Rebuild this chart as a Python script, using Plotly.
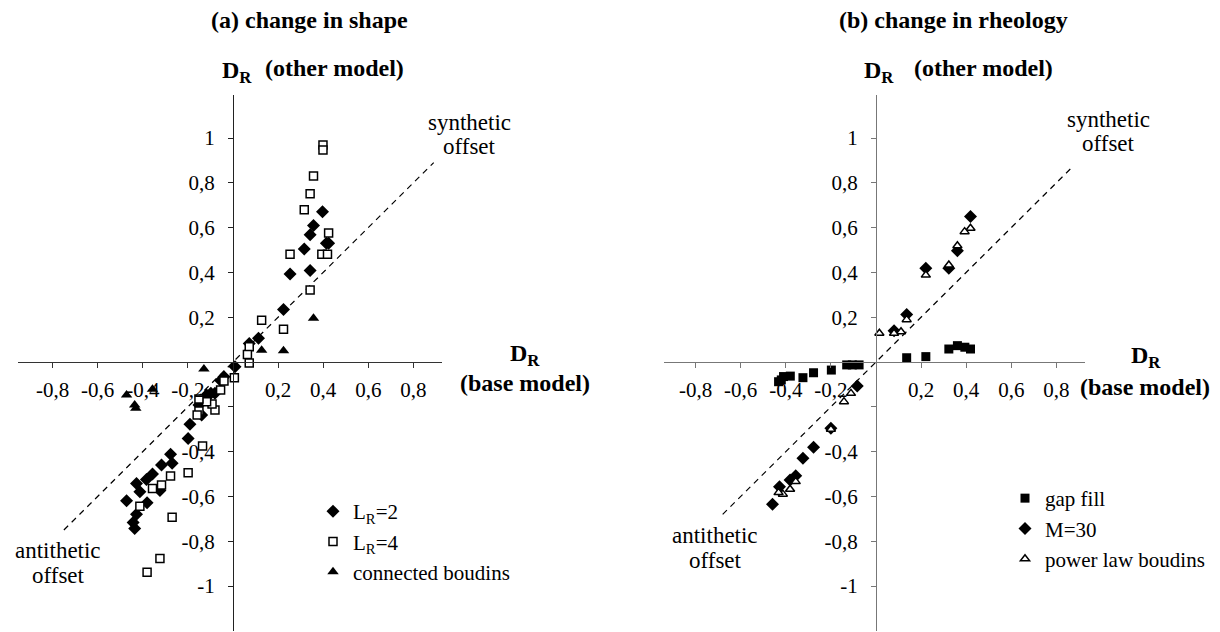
import plotly.graph_objects as go

W, H = 1220, 632
FONT = "'Liberation Serif', 'Times New Roman', 'DejaVu Serif', serif"

# ---------------- data: panel (a) change in shape ----------------
lr2_x = [0.397, 0.357, 0.342, 0.414, 0.424, 0.316, 0.253, 0.342, 0.224, 0.113, 0.072,
         0.009, -0.040, -0.055, -0.080, -0.098, -0.117, -0.139, -0.151, -0.191, -0.199,
         -0.277, -0.270, -0.317, -0.357, -0.384, -0.428, -0.324, -0.413, -0.381, -0.472,
         -0.428, -0.443, -0.436]
lr2_y = [0.671, 0.609, 0.568, 0.530, 0.530, 0.504, 0.393, 0.408, 0.234, 0.106, 0.083,
         -0.021, -0.066, -0.083, -0.140, -0.140, -0.147, -0.237, -0.192, -0.278, -0.341,
         -0.412, -0.452, -0.460, -0.500, -0.524, -0.542, -0.574, -0.579, -0.628, -0.619,
         -0.680, -0.717, -0.743]

lr4_x = [0.399, 0.399, 0.357, 0.342, 0.316, 0.424, 0.253, 0.394, 0.419, 0.342, 0.127,
         0.224, 0.072, 0.064, 0.072, 0.006, -0.040, -0.055, -0.080, -0.093, -0.117,
         -0.151, -0.151, -0.159, -0.135, -0.199, -0.277, -0.317, -0.357, -0.413, -0.270,
         -0.324, -0.381]
lr4_y = [0.969, 0.946, 0.830, 0.751, 0.680, 0.576, 0.481, 0.481, 0.481, 0.321, 0.186,
         0.146, 0.068, 0.033, -0.004, -0.070, -0.085, -0.125, -0.214, -0.188, -0.177,
         -0.165, -0.219, -0.237, -0.375, -0.494, -0.509, -0.549, -0.565, -0.644, -0.693,
         -0.877, -0.939]

conn_x = [0.357, 0.127, 0.224, -0.129, -0.357, -0.472, -0.436, -0.431]
conn_y = [0.195, 0.052, 0.050, -0.031, -0.122, -0.147, -0.192, -0.207]

# ---------------- data: panel (b) change in rheology ----------------
gap_x = [0.136, 0.221, 0.323, 0.361, 0.394, 0.419, -0.075, -0.105, -0.130, -0.198,
         -0.277, -0.324, -0.380, -0.410, -0.420, -0.432]
gap_y = [0.019, 0.024, 0.058, 0.073, 0.066, 0.058, -0.013, -0.013, -0.013, -0.036,
         -0.048, -0.070, -0.063, -0.065, -0.080, -0.088]

m30_x = [0.419, 0.361, 0.323, 0.221, 0.136, 0.080, -0.083, -0.200, -0.277, -0.324,
         -0.356, -0.381, -0.428, -0.459]
m30_y = [0.649, 0.497, 0.418, 0.418, 0.212, 0.140, -0.107, -0.296, -0.381, -0.430,
         -0.508, -0.527, -0.557, -0.635]

pow_x = [0.419, 0.393, 0.361, 0.323, 0.221, 0.136, 0.111, 0.080, 0.015, -0.111,
         -0.142, -0.200, -0.356, -0.381, -0.413, -0.432]
pow_y = [0.597, 0.582, 0.519, 0.433, 0.388, 0.189, 0.135, 0.128, 0.128, -0.140,
         -0.177, -0.300, -0.534, -0.568, -0.590, -0.583]

# diagonal reference lines (y = x)
diag_a = [-0.75, 0.89]
diag_b = [-0.68, 0.87]

xtick_vals = [-0.8, -0.6, -0.4, -0.2, 0.2, 0.4, 0.6, 0.8]
xtick_text = ["-0,8", "-0,6", "-0,4", "-0,2", "0,2", "0,4", "0,6", "0,8"]
ytick_vals = [-1, -0.8, -0.6, -0.4, 0.2, 0.4, 0.6, 0.8, 1]
ytick_text = ["-1", "-0,8", "-0,6", "-0,4", "0,2", "0,4", "0,6", "0,8", "1"]
ytick_unlabelled = [-0.2]

# ---------------- geometry ----------------
KX, KY = 225.5, 224.0
OY = 362.0
OXA, OXB = 233.0, 876.0
XR_A = [-0.955, 0.925]
XR_B = [-0.94, 0.925]
YR = [-1.2, 1.19]


def xdom(ox, xr):
    return [(ox + KX * xr[0]) / W, (ox + KX * xr[1]) / W]


ydom = [(H - (OY - KY * YR[0])) / H, (H - (OY - KY * YR[1])) / H]

fig = go.Figure()

BLACK = "black"


def mk(symbol, fill, size=9):
    return dict(symbol=symbol, size=size, color=fill,
                line=dict(color=BLACK, width=1.5))


# panel (a)
fig.add_trace(go.Scatter(x=diag_a, y=diag_a, mode="lines", showlegend=False,
                         line=dict(color=BLACK, width=1.2, dash="6px,5px"),
                         xaxis="x", yaxis="y", hoverinfo="skip"))
fig.add_trace(go.Scatter(x=lr2_x, y=lr2_y, mode="markers", name="L<sub>R</sub>=2",
                         marker=dict(symbol="diamond", size=10, color=BLACK),
                         xaxis="x", yaxis="y", legend="legend"))
fig.add_trace(go.Scatter(x=lr4_x, y=lr4_y, mode="markers", name="L<sub>R</sub>=4",
                         marker=mk("square", "white", 8),
                         xaxis="x", yaxis="y", legend="legend"))
fig.add_trace(go.Scatter(x=conn_x, y=conn_y, mode="markers", name="connected boudins",
                         marker=dict(symbol="triangle-up", size=10, color=BLACK),
                         xaxis="x", yaxis="y", legend="legend"))

# panel (b)
fig.add_trace(go.Scatter(x=diag_b, y=diag_b, mode="lines", showlegend=False,
                         line=dict(color=BLACK, width=1.2, dash="6px,5px"),
                         xaxis="x2", yaxis="y2", hoverinfo="skip"))
fig.add_trace(go.Scatter(x=gap_x, y=gap_y, mode="markers", name="gap fill",
                         marker=dict(symbol="square", size=9, color=BLACK),
                         xaxis="x2", yaxis="y2", legend="legend2"))
fig.add_trace(go.Scatter(x=m30_x, y=m30_y, mode="markers", name="M=30",
                         marker=dict(symbol="diamond", size=10, color=BLACK),
                         xaxis="x2", yaxis="y2", legend="legend2"))
fig.add_trace(go.Scatter(x=pow_x, y=pow_y, mode="markers", name="power law boudins",
                         marker=mk("triangle-up", "white", 8),
                         xaxis="x2", yaxis="y2", legend="legend2"))

tickfont = dict(family=FONT, size=21, color=BLACK)


def xax(dom, rng, pos, col):
    return dict(domain=dom, range=rng, anchor="free", position=pos,
                showgrid=False, zeroline=False, showline=True, linecolor=col,
                linewidth=1, ticks="outside", ticklen=5, tickcolor=col, tickwidth=1,
                tickvals=xtick_vals, ticktext=xtick_text, tickfont=tickfont,
                ticklabelstandoff=4, fixedrange=True)


def yax(rng, pos, col):
    return dict(domain=ydom, range=rng, anchor="free", position=pos,
                showgrid=False, zeroline=False, showline=True, linecolor=col,
                linewidth=1, ticks="outside", ticklen=5, tickcolor=col, tickwidth=1,
                tickvals=ytick_vals, ticktext=ytick_text, tickfont=tickfont,
                minor=dict(tickvals=ytick_unlabelled, ticks="outside", ticklen=5,
                           tickcolor=col, tickwidth=1, showgrid=False),
                ticklabelstandoff=9, fixedrange=True)


xpos = (H - OY) / H
fig.update_layout(
    width=W, height=H, margin=dict(l=0, r=0, t=0, b=0),
    paper_bgcolor="white", plot_bgcolor="white",
    font=dict(family=FONT, color=BLACK),
    xaxis=xax(xdom(OXA, XR_A), XR_A, xpos, "#333333"),
    yaxis=yax(YR, OXA / W, "#222222"),
    xaxis2=xax(xdom(OXB, XR_B), XR_B, xpos, "#777777"),
    yaxis2=yax(YR, OXB / W, "#777777"),
    legend=dict(x=313 / W, y=1 - 491 / H, xanchor="left", yanchor="top",
                bgcolor="rgba(0,0,0,0)", font=dict(family=FONT, size=21),
                tracegroupgap=0),
    legend2=dict(x=1005 / W, y=1 - 478 / H, xanchor="left", yanchor="top",
                 bgcolor="rgba(0,0,0,0)", font=dict(family=FONT, size=21),
                 tracegroupgap=0),
    showlegend=True,
)


def ann(text, px, py, size=24, bold=False, xanchor="center"):
    t = f"<b>{text}</b>" if bold else text
    fig.add_annotation(text=t, x=px / W, y=1 - py / H, xref="paper", yref="paper",
                       xanchor=xanchor, yanchor="middle", showarrow=False,
                       font=dict(family=FONT, size=size, color=BLACK))


# titles
ann("(a) change in shape", 209, 20, bold=True, xanchor="left")
ann("(b) change in rheology", 837, 20, bold=True, xanchor="left")
# y-axis labels
ann("D<sub>R</sub>", 220, 72, bold=True, xanchor="left")
ann("(other model)", 263, 68, bold=True, xanchor="left")
ann("D<sub>R</sub>", 862, 72, bold=True, xanchor="left")
ann("(other model)", 912, 68, bold=True, xanchor="left")
# x-axis labels
ann("D<sub>R</sub>", 525, 355, bold=True)
ann("(base model)", 525, 383, bold=True)
ann("D<sub>R</sub>", 1146, 357, bold=True)
ann("(base model)", 1145, 387, bold=True)
# diagonal labels
ann("synthetic", 469, 122, size=23)
ann("offset", 469, 146, size=23)
ann("synthetic", 1108, 119, size=23)
ann("offset", 1108, 143, size=23)
ann("antithetic", 58, 550, size=23)
ann("offset", 58, 575, size=23)
ann("antithetic", 715, 535, size=23)
ann("offset", 715, 560, size=23)

fig.write_html("out.html")
